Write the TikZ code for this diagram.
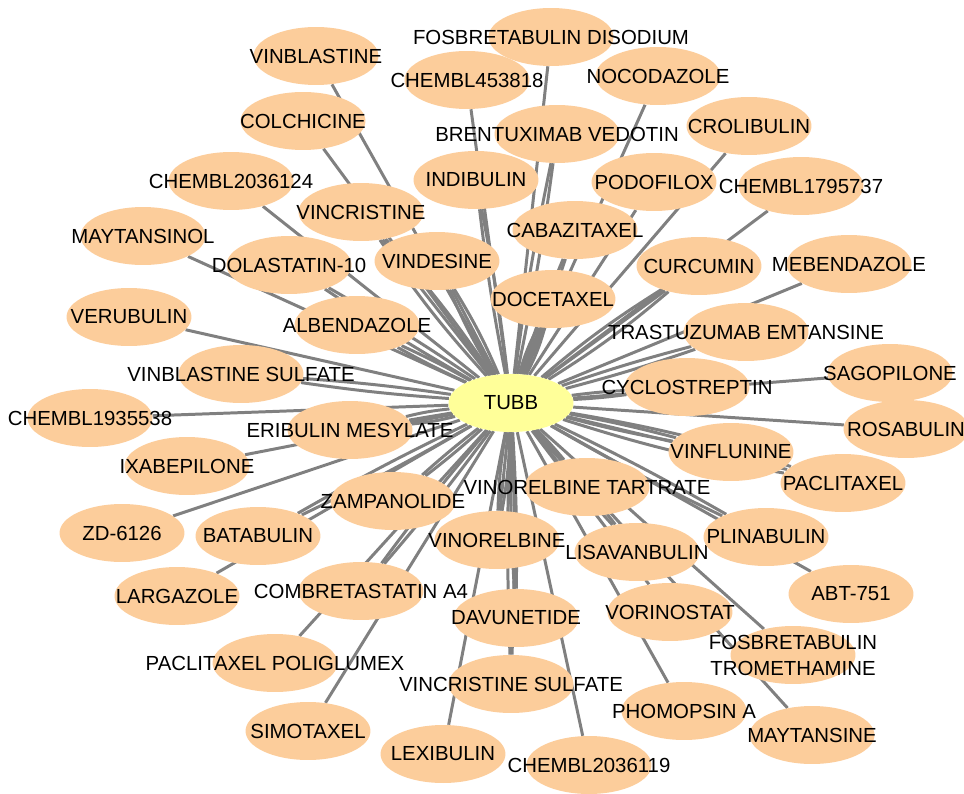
\documentclass[tikz,border=0pt]{standalone}
\usepackage{fontspec}
\setmainfont{Liberation Sans}
\usetikzlibrary{shapes,calc,positioning,backgrounds}
\definecolor{peach}{RGB}{252,205,155}
\definecolor{lemon}{RGB}{255,255,153}
\definecolor{wire}{RGB}{128,128,128}

\begin{document}
\begin{tikzpicture}[x=0.02cm,y=-0.02cm]
  \tikzset{ p/.style={ellipse,fill=peach,inner sep=0pt,minimum width=2.5cm,minimum height=1.16cm},
    hub/.style={p,fill=lemon},
    w/.style={wire,line width=1.7pt},
    every label/.style={font=\fontsize{11.6}{14.8}\selectfont,align=center,inner sep=0pt},
  }
  \useasboundingbox (0,0) rectangle (964,794);
  \def\drugs{1/316/56/1/VINBLASTINE, 2/303/121/1/COLCHICINE, 3/231/181/1/CHEMBL2036124,
    4/143/236/1/MAYTANSINOL, 5/289/265/2/DOLASTATIN-10, 6/129/317/1/VERUBULIN,
    7/357/325/2/ALBENDAZOLE, 8/241/374/2/VINBLASTINE SULFATE, 9/90/418/1/CHEMBL1935538,
    10/350/430/3/ERIBULIN MESYLATE, 11/187/466/1/IXABEPILONE, 12/122/533/1/ZD-6126,
    13/258/536/2/BATABULIN, 14/177/596/1/LARGAZOLE, 15/393/501/2/ZAMPANOLIDE,
    16/361/591/2/COMBRETASTATIN A4, 17/275/663/1/PACLITAXEL POLIGLUMEX, 18/308/731/1/SIMOTAXEL,
    19/443/754/1/LEXIBULIN, 20/511/684/2/VINCRISTINE SULFATE, 21/516/618/2/DAVUNETIDE,
    22/497/540/3/VINORELBINE, 23/587/487/2/VINORELBINE TARTRATE, 24/589/765/1/CHEMBL2036119,
    25/637/552/2/LISAVANBULIN, 26/670/612/1/VORINOSTAT, 27/684/711/1/PHOMOPSIN A,
    28/812/735/1/MAYTANSINE, 29/793/655/1/{FOSBRETABULIN\\TROMETHAMINE}, 30/851/594/1/ABT-751,
    31/766/537/2/PLINABULIN, 32/843/483/3/PACLITAXEL, 33/731/452/2/VINFLUNINE,
    34/906/429/1/ROSABULIN, 35/890/373/1/SAGOPILONE, 36/687/387/2/CYCLOSTREPTIN,
    37/746/332/2/TRASTUZUMAB EMTANSINE, 38/849/264/1/MEBENDAZOLE, 39/699/266/3/CURCUMIN,
    40/801/186/1/CHEMBL1795737, 41/749/126/1/CROLIBULIN, 42/654/182/1/PODOFILOX,
    43/658/76/1/NOCODAZOLE, 44/551/37/1/FOSBRETABULIN DISODIUM, 45/467/80/1/CHEMBL453818,
    46/557/134/2/BRENTUXIMAB VEDOTIN, 47/476/180/2/INDIBULIN, 48/575/230/2/CABAZITAXEL,
    49/553/299/4/DOCETAXEL, 50/437/261/3/VINDESINE, 51/361/212/3/VINCRISTINE}

  \node[hub,label=center:TUBB] (0) at (511,403) {};
  \foreach \i/\x/\y/\k/\t in \drugs
    \node[p,label={center:\t}] (\i) at (\x,\y) {};

  % the connection between the dots
  \begin{pgfonlayer}{background}
  \foreach \i/\x/\y/\k/\t in \drugs
    \foreach \j in {1,...,\k} {
      \pgfmathsetmacro\b{(\j-(\k+1)/2)*4}
      \draw[w] (0) to[bend left=\b] (\i);
    }
  \end{pgfonlayer}
\end{tikzpicture}
\end{document}
